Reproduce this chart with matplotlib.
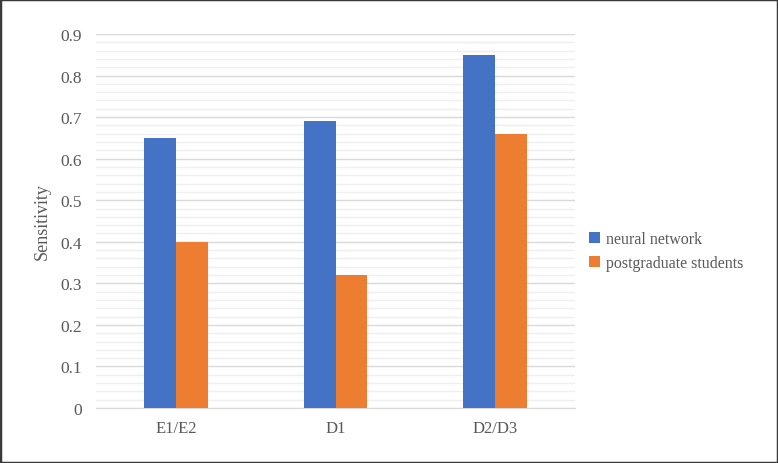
import matplotlib
matplotlib.use("Agg")
import matplotlib.pyplot as plt
import numpy as np
from matplotlib.ticker import MultipleLocator
from matplotlib.patches import Rectangle

categories = ["E1/E2", "D1", "D2/D3"]
neural_network = [0.65, 0.69, 0.85]
postgraduate_students = [0.40, 0.32, 0.66]
series_names = ["neural network", "postgraduate students"]

plt.rcParams['font.family'] = ['Liberation Serif', 'DejaVu Serif']
txt = '#595959'

fig = plt.figure(figsize=(7.78, 4.64), dpi=100)
ax = fig.add_axes([96/778, 55/464, 479/778, 374/464])

x = np.arange(len(categories))
w = 0.2
ax.bar(x - w/2, neural_network, w, color='#4472c4', label=series_names[0], zorder=3)
ax.bar(x + w/2, postgraduate_students, w, color='#ed7d31', label=series_names[1], zorder=3)

ax.set_xlim(-0.5, 2.5)
ax.set_ylim(0, 0.9)
ax.yaxis.set_minor_locator(MultipleLocator(0.02))
yt = np.arange(0, 0.91, 0.1)
ax.set_yticks(yt)
ax.set_yticklabels(["0" if v == 0 else f"{v:.1f}" for v in yt])
ax.grid(axis='y', which='major', color='#d9d9d9', linewidth=1, zorder=0)
ax.grid(axis='y', which='minor', color='#efefef', linewidth=1, zorder=0)
ax.set_xticks(x)
ax.set_xticklabels(categories)
ax.tick_params(axis='both', which='both', length=0, labelsize=12.5, colors=txt)
ax.tick_params(axis='x', labelsize=12)
ax.tick_params(axis='y', pad=10)
ax.tick_params(axis='x', pad=9)
for s in ['top', 'right', 'left']:
    ax.spines[s].set_visible(False)
ax.spines['bottom'].set_color('#d9d9d9')
ax.set_ylabel("Sensitivity", fontsize=13, color=txt, labelpad=7)

leg = fig.legend(loc='upper left', bbox_to_anchor=(583/778, 1 - 226/464), frameon=False,
                 fontsize=11.5, handlelength=0.65, handleheight=0.65, handletextpad=0.4,
                 labelspacing=0.5, borderaxespad=0)
for t in leg.get_texts():
    t.set_color(txt)

fig.patches.append(Rectangle((0, 0), 1, 1, transform=fig.transFigure, fill=False,
                             edgecolor='#3a3a3a', linewidth=2.5))
fig.savefig("out.png", dpi=100)
